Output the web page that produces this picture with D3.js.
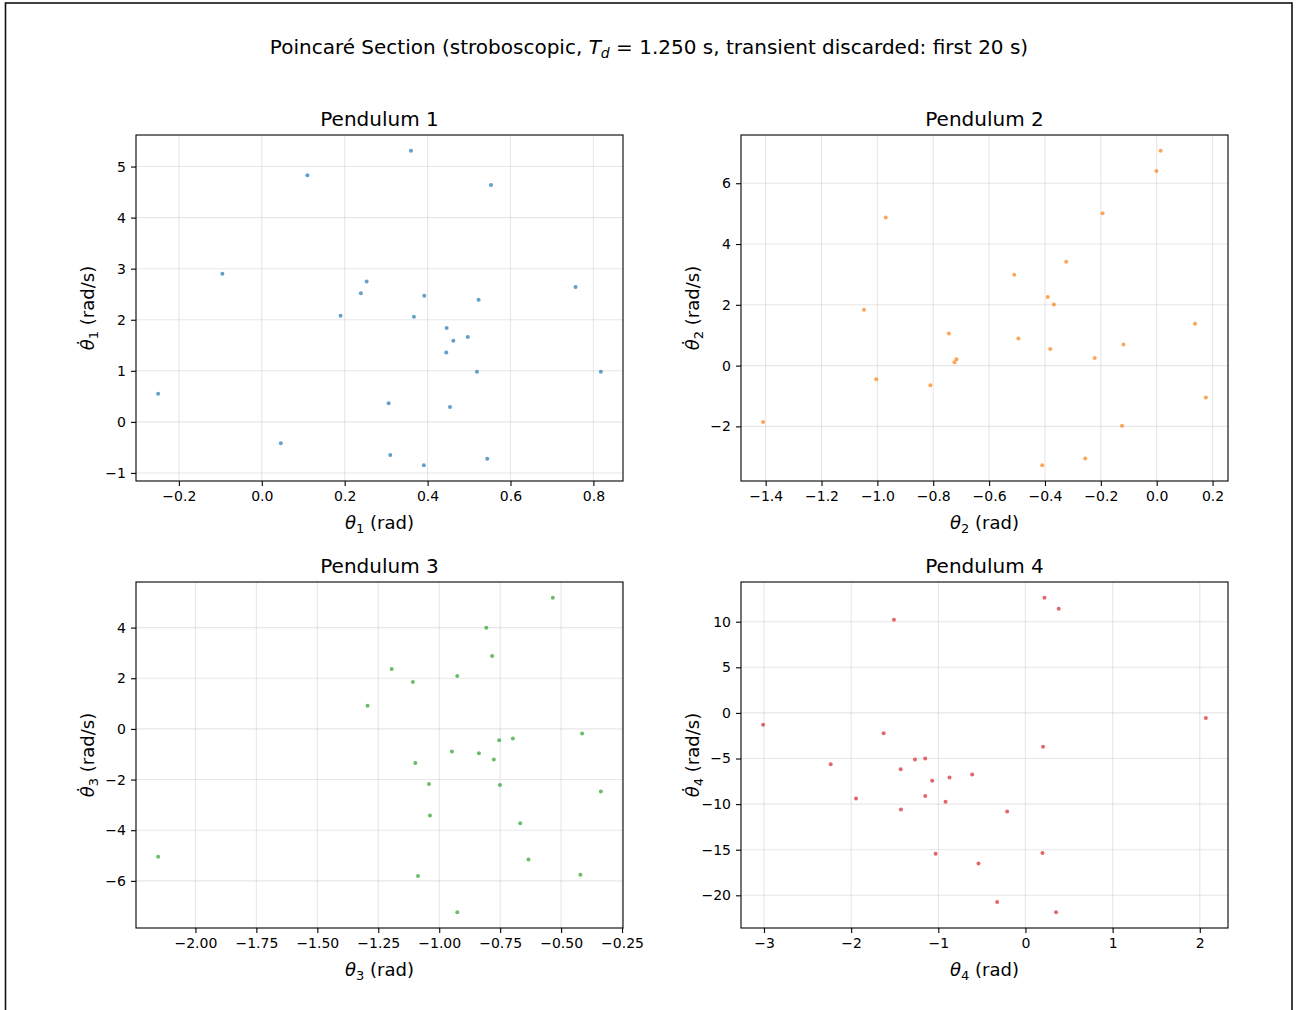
<!DOCTYPE html>
<html>
<head>
<meta charset="utf-8">
<script src="https://cdn.jsdelivr.net/npm/d3@7"></script>
<style>
  body { margin: 0; background: #fff; }
  svg { font-family: "DejaVu Sans", sans-serif; }
</style>
</head>
<body>
<div id="chart"></div>
<script>
// pendulum 1
var theta1 = [0.360, 0.110, 0.553, -0.095, 0.253, 0.239, 0.392, 0.523, 0.757, 0.190, 0.367, 0.446,
              0.462, 0.497, 0.445, 0.519, 0.818, -0.250, 0.306, 0.454, 0.046, 0.310, 0.391, 0.544];
var omega1 = [5.31, 4.83, 4.64, 2.90, 2.75, 2.52, 2.47, 2.39, 2.64, 2.08, 2.06, 1.84,
              1.59, 1.66, 1.36, 0.98, 0.98, 0.55, 0.365, 0.29, -0.42, -0.65, -0.85, -0.72];
// pendulum 2
var theta2 = [0.014, -0.001, -0.970, -0.194, -0.324, -0.510, -0.390, -0.368, -1.048, 0.137, -0.744, -0.495,
              -0.119, -0.381, -0.717, -0.724, -0.222, -1.004, -0.810, 0.176, -1.409, -0.124, -0.256, -0.410];
var omega2 = [7.07, 6.40, 4.87, 5.01, 3.42, 2.99, 2.26, 2.01, 1.84, 1.38, 1.06, 0.89,
              0.69, 0.55, 0.21, 0.11, 0.25, -0.45, -0.65, -1.05, -1.86, -1.98, -3.06, -3.28];
// pendulum 3
var theta3 = [-0.534, -0.807, -0.783, -1.195, -1.108, -0.926, -1.294, -0.414, -0.698, -0.754, -0.948, -0.837,
              -0.776, -1.098, -1.042, -0.751, -0.337, -1.038, -0.668, -2.153, -0.634, -1.087, -0.421, -0.926];
var omega3 = [5.18, 3.99, 2.88, 2.37, 1.85, 2.09, 0.91, -0.18, -0.38, -0.45, -0.89, -0.96,
              -1.21, -1.35, -2.18, -2.21, -2.47, -3.42, -3.72, -5.05, -5.16, -5.81, -5.76, -7.24];
// pendulum 4
var theta4 = [0.218, 0.382, -1.509, 2.070, -3.010, -1.627, 0.202, -2.235, -1.150, -1.268, -1.432, -0.871,
              -0.611, -1.070, -1.150, -1.944, -0.917, -1.429, -0.210, -1.031, 0.195, -0.539, -0.325, 0.351];
var omega4 = [12.63, 11.42, 10.22, -0.55, -1.31, -2.23, -3.72, -5.62, -5.00, -5.11, -6.17, -7.08,
              -6.75, -7.45, -9.12, -9.38, -9.74, -10.58, -10.80, -15.44, -15.36, -16.50, -20.73, -21.86];

// tick values
var xTicks1 = [-0.2, 0.0, 0.2, 0.4, 0.6, 0.8];
var yTicks1 = [-1, 0, 1, 2, 3, 4, 5];
var xTicks2 = [-1.4, -1.2, -1.0, -0.8, -0.6, -0.4, -0.2, 0.0, 0.2];
var yTicks2 = [-2, 0, 2, 4, 6];
var xTicks3 = [-2.00, -1.75, -1.50, -1.25, -1.00, -0.75, -0.50, -0.25];
var yTicks3 = [-6, -4, -2, 0, 2, 4];
var xTicks4 = [-3, -2, -1, 0, 1, 2];
var yTicks4 = [-20, -15, -10, -5, 0, 5, 10];

var colors = ["#1f77b4", "#ff7f0e", "#2ca02c", "#d62728"];

var panels = [
  {n: 1, xs: theta1, ys: omega1, xt: xTicks1, yt: yTicks1, xd: 1, yd: 0, left: 136, top: 135},
  {n: 2, xs: theta2, ys: omega2, xt: xTicks2, yt: yTicks2, xd: 1, yd: 0, left: 741, top: 135},
  {n: 3, xs: theta3, ys: omega3, xt: xTicks3, yt: yTicks3, xd: 2, yd: 0, left: 136, top: 582},
  {n: 4, xs: theta4, ys: omega4, xt: xTicks4, yt: yTicks4, xd: 0, yd: 0, left: 741, top: 582}
];
var pw = 487, ph = 346;

var svg = d3.select("#chart").append("svg")
    .attr("width", 1301)
    .attr("height", 1010);

// figure border
svg.append("rect")
    .attr("x", 5.5).attr("y", 3)
    .attr("width", 1286.5).attr("height", 1020)
    .attr("fill", "none")
    .attr("stroke", "#111")
    .attr("stroke-width", 1.6);

// suptitle
var sup = svg.append("text")
    .attr("x", 649).attr("y", 54)
    .attr("text-anchor", "middle")
    .style("font-size", "20px");
sup.append("tspan").text("Poincaré Section (stroboscopic, ");
sup.append("tspan").style("font-style", "italic").text("T");
sup.append("tspan").style("font-style", "italic").style("font-size", "14px").attr("dy", 4).text("d");
sup.append("tspan").attr("dy", -4).text(" = 1.250 s, transient discarded: first 20 s)");

function fmt(d, dec) {
  return d3.format("." + dec + "f")(d).replace("-", "\u2212");
}

function pad(arr) {
  var ext = d3.extent(arr), span = ext[1] - ext[0];
  return [ext[0] - 0.05 * span, ext[1] + 0.05 * span];
}

panels.forEach(function(p, i) {
  var g = svg.append("g").attr("transform", `translate(${p.left}, ${p.top})`);

  var x = d3.scaleLinear().domain(pad(p.xs)).range([0, pw]);
  var y = d3.scaleLinear().domain(pad(p.ys)).range([ph, 0]);

  // grid
  g.append("g").selectAll("line").data(p.xt).enter().append("line")
      .attr("x1", function(d) { return x(d); }).attr("x2", function(d) { return x(d); })
      .attr("y1", 0).attr("y2", ph)
      .attr("stroke", "#b0b0b0").attr("stroke-opacity", 0.3).attr("stroke-width", 1.1);
  g.append("g").selectAll("line").data(p.yt).enter().append("line")
      .attr("y1", function(d) { return y(d); }).attr("y2", function(d) { return y(d); })
      .attr("x1", 0).attr("x2", pw)
      .attr("stroke", "#b0b0b0").attr("stroke-opacity", 0.3).attr("stroke-width", 1.1);

  // points
  g.append("g").selectAll("circle").data(p.xs).enter().append("circle")
      .attr("cx", function(d) { return x(d); })
      .attr("cy", function(d, j) { return y(p.ys[j]); })
      .attr("r", 2)
      .attr("fill", colors[i])
      .attr("fill-opacity", 0.7);

  // axes
  var xa = g.append("g").attr("transform", `translate(0, ${ph})`)
      .call(d3.axisBottom(x).tickValues(p.xt).tickSize(5).tickPadding(5)
        .tickFormat(function(d) { return fmt(d, p.xd); }));
  var ya = g.append("g")
      .call(d3.axisLeft(y).tickValues(p.yt).tickSize(5).tickPadding(5)
        .tickFormat(function(d) { return fmt(d, p.yd); }));
  [xa, ya].forEach(function(a) {
    a.attr("font-family", "DejaVu Sans, sans-serif").attr("font-size", 14);
    a.select(".domain").remove();
    a.selectAll(".tick line").attr("stroke", "#000").attr("stroke-width", 1.1);
    a.selectAll(".tick text").attr("fill", "#000");
  });

  // spines
  g.append("rect")
      .attr("width", pw).attr("height", ph)
      .attr("fill", "none").attr("stroke", "#000").attr("stroke-width", 1.1);

  // title
  g.append("text")
      .attr("x", pw / 2).attr("y", -9)
      .attr("text-anchor", "middle")
      .style("font-size", "20px")
      .text("Pendulum " + p.n);

  // x label
  var xl = g.append("text")
      .attr("x", pw / 2).attr("y", ph + 48)
      .attr("text-anchor", "middle")
      .style("font-size", "18px");
  xl.append("tspan").style("font-style", "italic").text("θ");
  xl.append("tspan").style("font-size", "13px").attr("dy", 4).text(p.n);
  xl.append("tspan").attr("dy", -4).text(" (rad)");

  // y label
  var yl = g.append("text")
      .attr("transform", `translate(-42, ${ph / 2}) rotate(-90)`)
      .attr("text-anchor", "middle")
      .style("font-size", "18px");
  yl.append("tspan").style("font-style", "italic").text("θ\u0307");
  yl.append("tspan").style("font-size", "13px").attr("dy", 4).text(p.n);
  yl.append("tspan").attr("dy", -4).text(" (rad/s)");
});
</script>
</body>
</html>
